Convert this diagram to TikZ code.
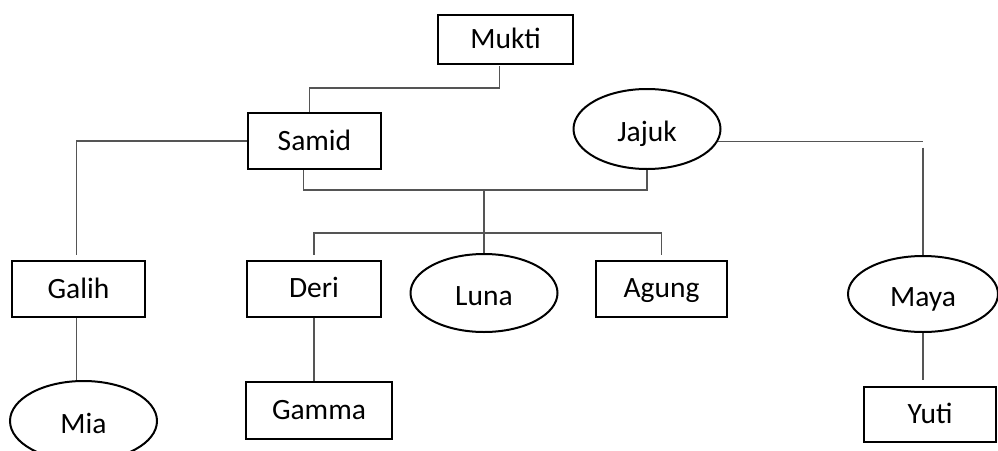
\documentclass[tikz,border=0pt]{standalone}
\usepackage{fontspec}
\setmainfont{Carlito}
\usetikzlibrary{positioning}
\usetikzlibrary{calc}
\usetikzlibrary{shapes.geometric}
\definecolor{linegray}{RGB}{85,85,85}

\begin{document}
\begin{tikzpicture}[x=1pt,y=-1pt,font=\fontsize{29.5}{34}\selectfont]
				\tikzstyle{person}=[shape=rectangle,draw,line width=2pt,inner sep=0pt,text height=23.5pt,text depth=5pt,minimum width=133pt,minimum height=56pt]
				\tikzstyle{wife}=[shape=ellipse,draw,line width=2pt,inner sep=0pt,text height=29pt,text depth=5pt,minimum width=147pt,minimum height=79pt]
				\tikzstyle{link}=[draw=linegray,line width=1.3pt]
				
				\useasboundingbox (0,0) rectangle (998,450);
				
				\node[person] (Mukti) at (505.5,37.5) [minimum width=135pt,minimum height=49pt,yshift=-2pt] {Mukti};
				\node[person] (Samid) at (314.5,141)  {Samid};
				\node[wife]   (Jajuk) at (647,129)    [minimum height=80pt] {Jajuk};
				\node[person] (Galih) at (78.5,289)   {Galih};
				\node[person] (Deri)  at (314,288.5)  [minimum width=134pt] {Deri};
				\node[wife]   (Luna)  at (484,293)    [minimum height=78pt] {Luna};
				\node[person] (Agung) at (661.5,288.5) [minimum width=131pt] {Agung};
				\node[person] (Gamma) at (319,410.5)  [minimum width=146pt,minimum height=57pt] {Gamma};
				\node[wife]   (Mia)   at (83.5,421)   [minimum height=80pt] {Mia};
				\node[wife]   (Maya)  at (923,294)    [minimum width=150pt,minimum height=76pt] {Maya};
				\node[person] (Yuti)  at (930,414.5)  [minimum width=132pt,minimum height=55pt] {Yuti};
				
				\coordinate (kids) at (484,190);
				\coordinate (bar)  at (484,233);
				\coordinate (galihline) at ([xshift=-2pt]Galih.south);
				
				\draw[link] ([xshift=-6pt,yshift=-1pt]Mukti.south) -- ++(0,22) -| ([xshift=-5pt]Samid.north);
				\draw[link,shorten >=5pt] (Samid.west) -| ([xshift=-2pt]Galih.north);
				\draw[link] (galihline) -- (galihline |- Mia.north);
				\draw[link] ([xshift=-11pt]Samid.south) -- ++(0,20) -| (Jajuk.south);
				\draw[link] (kids) -- (Luna.north);
				\draw[link,shorten <=5pt,shorten >=5pt] (Deri.north) |- (bar) -| (Agung.north);
				\draw[link] (Deri.south) -- (Deri.south |- Gamma.north);
				\draw[link] (Jajuk.-10) -- (Jajuk.-10 -| Maya.north);
				\draw[link,shorten <=6pt] (Jajuk.-10 -| Maya.north) -- (Maya.north);
				\draw[link,shorten >=6pt] (Maya.south) -- (Maya.south |- Yuti.north);
\end{tikzpicture}
\end{document}
